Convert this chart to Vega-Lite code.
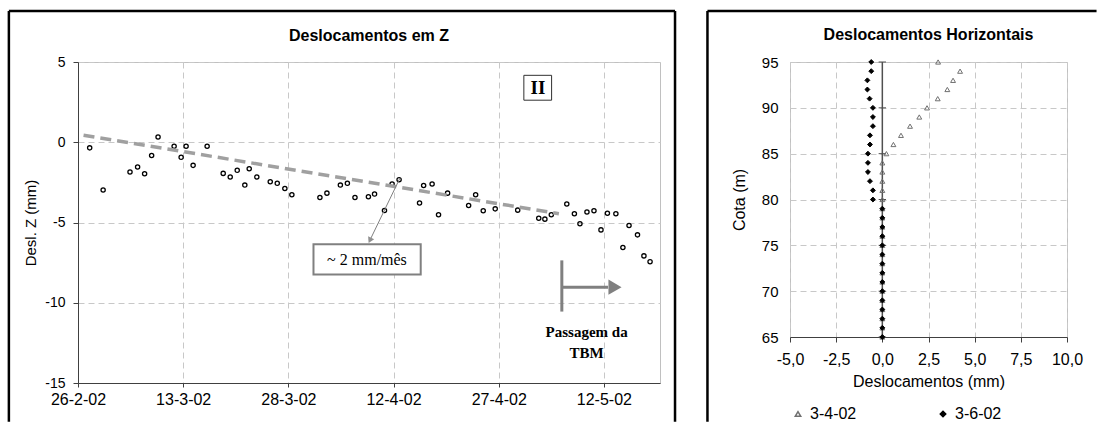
{
  "$schema": "https://vega.github.io/schema/vega-lite/v6.json",
  "padding": {"left": 7, "top": 9, "right": 0, "bottom": 0},
  "spacing": 28,
  "resolve": {"scale": {"shape": "independent", "stroke": "independent", "fill": "independent"}, "legend": {"shape": "independent", "stroke": "independent", "fill": "independent"}},
  "config": {
    "font": "Liberation Sans",
    "view": {"stroke": "#c0c0c0", "strokeWidth": 1},
    "axis": {
      "gridColor": "#c8c8c8",
      "gridDash": [6, 4],
      "domainColor": "#404040",
      "tickColor": "#404040",
      "labelColor": "black",
      "titleColor": "black",
      "labelFont": "Liberation Sans",
      "titleFont": "Liberation Sans",
      "titleFontWeight": "normal",
      "labelOverlap": false,
      "labelFlush": false
    },
    "title": {"font": "Liberation Sans", "fontSize": 16, "fontWeight": "bold", "color": "black", "anchor": "middle"},
    "legend": {"labelFont": "Liberation Sans"}
  },
  "datasets": {
    "z": [
      {"t": "2002-02-27T16:00", "v": -0.35},
      {"t": "2002-03-01T14:00", "v": -2.98},
      {"t": "2002-03-05T10:00", "v": -1.85},
      {"t": "2002-03-06T12:00", "v": -1.54},
      {"t": "2002-03-07T12:00", "v": -1.96},
      {"t": "2002-03-08T12:00", "v": -0.83},
      {"t": "2002-03-09T10:00", "v": 0.33},
      {"t": "2002-03-11T17:00", "v": -0.25},
      {"t": "2002-03-12T17:00", "v": -0.94},
      {"t": "2002-03-13T10:00", "v": -0.25},
      {"t": "2002-03-14T10:00", "v": -1.44},
      {"t": "2002-03-16T10:00", "v": -0.25},
      {"t": "2002-03-18T17:00", "v": -1.94},
      {"t": "2002-03-19T17:00", "v": -2.17},
      {"t": "2002-03-20T17:00", "v": -1.75},
      {"t": "2002-03-21T19:00", "v": -2.67},
      {"t": "2002-03-22T10:00", "v": -1.65},
      {"t": "2002-03-23T12:00", "v": -2.17},
      {"t": "2002-03-25T10:00", "v": -2.46},
      {"t": "2002-03-26T10:00", "v": -2.56},
      {"t": "2002-03-27T12:00", "v": -2.88},
      {"t": "2002-03-28T12:00", "v": -3.27},
      {"t": "2002-04-01T12:00", "v": -3.44},
      {"t": "2002-04-02T12:00", "v": -3.17},
      {"t": "2002-04-04T10:00", "v": -2.67},
      {"t": "2002-04-05T10:00", "v": -2.56},
      {"t": "2002-04-06T12:00", "v": -3.44},
      {"t": "2002-04-08T10:00", "v": -3.4},
      {"t": "2002-04-09T07:00", "v": -3.23},
      {"t": "2002-04-10T17:00", "v": -4.25},
      {"t": "2002-04-11T19:00", "v": -2.6},
      {"t": "2002-04-12T19:00", "v": -2.33},
      {"t": "2002-04-15T17:00", "v": -3.79},
      {"t": "2002-04-16T07:00", "v": -2.69},
      {"t": "2002-04-17T12:00", "v": -2.6},
      {"t": "2002-04-18T10:00", "v": -4.52},
      {"t": "2002-04-19T17:00", "v": -3.17},
      {"t": "2002-04-22T17:00", "v": -3.94},
      {"t": "2002-04-23T17:00", "v": -3.27},
      {"t": "2002-04-24T19:00", "v": -4.27},
      {"t": "2002-04-26T12:00", "v": -4.15},
      {"t": "2002-04-29T17:00", "v": -4.23},
      {"t": "2002-05-02T17:00", "v": -4.73},
      {"t": "2002-05-03T14:00", "v": -4.79},
      {"t": "2002-05-04T12:00", "v": -4.52},
      {"t": "2002-05-06T17:00", "v": -3.85},
      {"t": "2002-05-07T19:00", "v": -4.46},
      {"t": "2002-05-08T14:00", "v": -5.08},
      {"t": "2002-05-09T14:00", "v": -4.35},
      {"t": "2002-05-10T14:00", "v": -4.27},
      {"t": "2002-05-11T14:00", "v": -5.46},
      {"t": "2002-05-12T12:00", "v": -4.42},
      {"t": "2002-05-13T17:00", "v": -4.46},
      {"t": "2002-05-14T17:00", "v": -6.56},
      {"t": "2002-05-15T14:00", "v": -5.19},
      {"t": "2002-05-16T19:00", "v": -5.77},
      {"t": "2002-05-17T17:00", "v": -7.08},
      {"t": "2002-05-18T14:00", "v": -7.44}
    ],
    "trend": [
      {"t": "2002-02-26T19:00", "v": 0.44},
      {"t": "2002-05-05T14:00", "v": -4.45}
    ],
    "h": [
      {"serie": "3-4-02", "cota": 95, "d": 3.02},
      {"serie": "3-4-02", "cota": 94, "d": 4.21},
      {"serie": "3-4-02", "cota": 93, "d": 3.83},
      {"serie": "3-4-02", "cota": 92, "d": 3.52},
      {"serie": "3-4-02", "cota": 91, "d": 3.0},
      {"serie": "3-4-02", "cota": 90, "d": 2.42},
      {"serie": "3-4-02", "cota": 89, "d": 2.0},
      {"serie": "3-4-02", "cota": 88, "d": 1.5},
      {"serie": "3-4-02", "cota": 87, "d": 1.01},
      {"serie": "3-4-02", "cota": 86, "d": 0.6},
      {"serie": "3-4-02", "cota": 85, "d": 0.22},
      {"serie": "3-4-02", "cota": 84, "d": 0.0},
      {"serie": "3-4-02", "cota": 83, "d": 0.0},
      {"serie": "3-4-02", "cota": 82, "d": 0.0},
      {"serie": "3-4-02", "cota": 81, "d": 0.0},
      {"serie": "3-4-02", "cota": 80, "d": 0.0},
      {"serie": "3-4-02", "cota": 79, "d": 0.0},
      {"serie": "3-4-02", "cota": 78, "d": 0.0},
      {"serie": "3-4-02", "cota": 77, "d": 0.0},
      {"serie": "3-4-02", "cota": 76, "d": 0.0},
      {"serie": "3-4-02", "cota": 75, "d": 0.0},
      {"serie": "3-4-02", "cota": 74, "d": 0.0},
      {"serie": "3-4-02", "cota": 73, "d": 0.0},
      {"serie": "3-4-02", "cota": 72, "d": 0.0},
      {"serie": "3-4-02", "cota": 71, "d": 0.0},
      {"serie": "3-4-02", "cota": 70, "d": 0.0},
      {"serie": "3-4-02", "cota": 69, "d": 0.0},
      {"serie": "3-4-02", "cota": 68, "d": 0.0},
      {"serie": "3-4-02", "cota": 67, "d": 0.0},
      {"serie": "3-4-02", "cota": 66, "d": 0.0},
      {"serie": "3-4-02", "cota": 65, "d": 0.0},
      {"serie": "3-6-02", "cota": 95, "d": -0.6},
      {"serie": "3-6-02", "cota": 94, "d": -0.6},
      {"serie": "3-6-02", "cota": 93, "d": -0.81},
      {"serie": "3-6-02", "cota": 92, "d": -0.81},
      {"serie": "3-6-02", "cota": 91, "d": -0.69},
      {"serie": "3-6-02", "cota": 90, "d": -0.51},
      {"serie": "3-6-02", "cota": 89, "d": -0.51},
      {"serie": "3-6-02", "cota": 88, "d": -0.51},
      {"serie": "3-6-02", "cota": 87, "d": -0.67},
      {"serie": "3-6-02", "cota": 86, "d": -0.67},
      {"serie": "3-6-02", "cota": 85, "d": -0.78},
      {"serie": "3-6-02", "cota": 84, "d": -0.78},
      {"serie": "3-6-02", "cota": 83, "d": -0.78},
      {"serie": "3-6-02", "cota": 82, "d": -0.67},
      {"serie": "3-6-02", "cota": 81, "d": -0.51},
      {"serie": "3-6-02", "cota": 80, "d": -0.51},
      {"serie": "3-6-02", "cota": 79, "d": 0.0},
      {"serie": "3-6-02", "cota": 78, "d": 0.0},
      {"serie": "3-6-02", "cota": 77, "d": 0.0},
      {"serie": "3-6-02", "cota": 76, "d": 0.0},
      {"serie": "3-6-02", "cota": 75, "d": 0.0},
      {"serie": "3-6-02", "cota": 74, "d": 0.0},
      {"serie": "3-6-02", "cota": 73, "d": 0.0},
      {"serie": "3-6-02", "cota": 72, "d": 0.0},
      {"serie": "3-6-02", "cota": 71, "d": 0.0},
      {"serie": "3-6-02", "cota": 70, "d": 0.0},
      {"serie": "3-6-02", "cota": 69, "d": 0.0},
      {"serie": "3-6-02", "cota": 68, "d": 0.0},
      {"serie": "3-6-02", "cota": 67, "d": 0.0},
      {"serie": "3-6-02", "cota": 66, "d": 0.0},
      {"serie": "3-6-02", "cota": 65, "d": 0.0}
    ],
    "ticks": [{"c": 95}, {"c": 90}, {"c": 85}, {"c": 80}, {"c": 75}, {"c": 70}, {"c": 65}],
    "one": [{}]
  },
  "hconcat": [
    {
      "width": 582,
      "height": 321,
      "title": {"text": "Deslocamentos em Z", "offset": -34},
      "layer": [
        {
          "data": {"name": "z"},
          "mark": {"type": "point", "shape": "circle", "filled": false, "stroke": "black", "strokeWidth": 1.3, "size": 18, "opacity": 1},
          "encoding": {
            "x": {
              "field": "t", "type": "temporal",
              "scale": {"domain": [{"year": 2002, "month": 2, "date": 26}, {"year": 2002, "month": 5, "date": 20}]},
              "axis": {
                "title": null,
                "values": [
                  {"year": 2002, "month": 2, "date": 26},
                  {"year": 2002, "month": 3, "date": 13},
                  {"year": 2002, "month": 3, "date": 28},
                  {"year": 2002, "month": 4, "date": 12},
                  {"year": 2002, "month": 4, "date": 27},
                  {"year": 2002, "month": 5, "date": 12}
                ],
                "format": "%-d-%-m-%y",
                "labelFontSize": 16,
                "tickSize": 4,
                "labelPadding": 4,
                "grid": true
              }
            },
            "y": {
              "field": "v", "type": "quantitative",
              "scale": {"domain": [-15, 5], "nice": false},
              "axis": {
                "title": "Desl. Z (mm)",
                "values": [-15, -10, -5, 0, 5],
                "labelExpr": "replace(datum.label, '−', '-')",
                "labelFontSize": 14,
                "titleFontSize": 15,
                "tickSize": 5,
                "labelPadding": 8,
                "titlePadding": 6,
                "grid": true
              }
            }
          }
        },
        {
          "data": {"name": "trend"},
          "mark": {"type": "line", "stroke": "#a0a0a0", "strokeWidth": 3.5, "strokeDash": [11, 6]},
          "encoding": {
            "x": {"field": "t", "type": "temporal", "scale": {"domain": [{"year": 2002, "month": 2, "date": 26}, {"year": 2002, "month": 5, "date": 20}]}},
            "y": {"field": "v", "type": "quantitative", "scale": {"domain": [-15, 5], "nice": false}}
          }
        },
        {
          "data": {"name": "one"},
          "mark": {"type": "rule", "stroke": "#808080", "strokeWidth": 1},
          "encoding": {
            "x": {"datum": {"year": 2002, "month": 4, "date": 12, "hours": 22}, "type": "temporal", "scale": {"domain": [{"year": 2002, "month": 2, "date": 26}, {"year": 2002, "month": 5, "date": 20}]}},
            "y": {"datum": -2.23, "type": "quantitative", "scale": {"domain": [-15, 5], "nice": false}},
            "x2": {"datum": {"year": 2002, "month": 4, "date": 8, "hours": 15}},
            "y2": {"datum": -6.11}
          }
        },
        {
          "data": {"name": "one"},
          "mark": {"type": "point", "shape": "triangle-up", "filled": true, "color": "#909090", "size": 45, "angle": 206, "opacity": 1},
          "encoding": {
            "x": {"datum": {"year": 2002, "month": 4, "date": 8, "hours": 15}, "type": "temporal", "scale": {"domain": [{"year": 2002, "month": 2, "date": 26}, {"year": 2002, "month": 5, "date": 20}]}},
            "y": {"datum": -6.11, "type": "quantitative", "scale": {"domain": [-15, 5], "nice": false}}
          }
        },
        {
          "data": {"name": "one"},
          "mark": {"type": "rect", "fill": "white", "stroke": "#808080", "strokeWidth": 2},
          "encoding": {
            "x": {"datum": {"year": 2002, "month": 3, "date": 31, "hours": 14}, "type": "temporal", "scale": {"domain": [{"year": 2002, "month": 2, "date": 26}, {"year": 2002, "month": 5, "date": 20}]}},
            "x2": {"datum": {"year": 2002, "month": 4, "date": 15, "hours": 21}},
            "y": {"datum": -6.36, "type": "quantitative", "scale": {"domain": [-15, 5], "nice": false}},
            "y2": {"datum": -8.24}
          }
        },
        {
          "data": {"name": "one"},
          "mark": {"type": "text", "text": "~ 2 mm/mês", "font": "Liberation Serif", "fontSize": 16, "align": "center", "baseline": "middle", "color": "black"},
          "encoding": {
            "x": {"datum": {"year": 2002, "month": 4, "date": 8, "hours": 5}, "type": "temporal", "scale": {"domain": [{"year": 2002, "month": 2, "date": 26}, {"year": 2002, "month": 5, "date": 20}]}},
            "y": {"datum": -7.31, "type": "quantitative", "scale": {"domain": [-15, 5], "nice": false}}
          }
        },
        {
          "data": {"name": "one"},
          "mark": {"type": "rect", "fill": "white", "stroke": "#303030", "strokeWidth": 1},
          "encoding": {
            "x": {"datum": {"year": 2002, "month": 4, "date": 30, "hours": 14}, "type": "temporal", "scale": {"domain": [{"year": 2002, "month": 2, "date": 26}, {"year": 2002, "month": 5, "date": 20}]}},
            "x2": {"datum": {"year": 2002, "month": 5, "date": 4, "hours": 13}},
            "y": {"datum": 4.17, "type": "quantitative", "scale": {"domain": [-15, 5], "nice": false}},
            "y2": {"datum": 2.62}
          }
        },
        {
          "data": {"name": "one"},
          "mark": {"type": "text", "text": "II", "font": "Liberation Serif", "fontSize": 19, "fontWeight": "bold", "align": "center", "baseline": "middle", "color": "black"},
          "encoding": {
            "x": {"datum": {"year": 2002, "month": 5, "date": 2, "hours": 14}, "type": "temporal", "scale": {"domain": [{"year": 2002, "month": 2, "date": 26}, {"year": 2002, "month": 5, "date": 20}]}},
            "y": {"datum": 3.4, "type": "quantitative", "scale": {"domain": [-15, 5], "nice": false}}
          }
        },
        {
          "data": {"name": "one"},
          "mark": {"type": "rule", "stroke": "#808080", "strokeWidth": 3},
          "encoding": {
            "x": {"datum": {"year": 2002, "month": 5, "date": 6}, "type": "temporal", "scale": {"domain": [{"year": 2002, "month": 2, "date": 26}, {"year": 2002, "month": 5, "date": 20}]}},
            "y": {"datum": -7.36, "type": "quantitative", "scale": {"domain": [-15, 5], "nice": false}},
            "y2": {"datum": -10.55}
          }
        },
        {
          "data": {"name": "one"},
          "mark": {"type": "rule", "stroke": "#808080", "strokeWidth": 3},
          "encoding": {
            "x": {"datum": {"year": 2002, "month": 5, "date": 6}, "type": "temporal", "scale": {"domain": [{"year": 2002, "month": 2, "date": 26}, {"year": 2002, "month": 5, "date": 20}]}},
            "x2": {"datum": {"year": 2002, "month": 5, "date": 12, "hours": 14}},
            "y": {"datum": -9.03, "type": "quantitative", "scale": {"domain": [-15, 5], "nice": false}}
          }
        },
        {
          "data": {"name": "one"},
          "mark": {"type": "point", "shape": "triangle-right", "filled": true, "color": "#808080", "size": 230, "opacity": 1},
          "encoding": {
            "x": {"datum": {"year": 2002, "month": 5, "date": 13, "hours": 14}, "type": "temporal", "scale": {"domain": [{"year": 2002, "month": 2, "date": 26}, {"year": 2002, "month": 5, "date": 20}]}},
            "y": {"datum": -9.03, "type": "quantitative", "scale": {"domain": [-15, 5], "nice": false}}
          }
        },
        {
          "data": {"name": "one"},
          "mark": {"type": "text", "text": "Passagem da", "font": "Liberation Serif", "fontSize": 15, "fontWeight": "bold", "align": "center", "baseline": "middle", "color": "black"},
          "encoding": {
            "x": {"datum": {"year": 2002, "month": 5, "date": 9, "hours": 13}, "type": "temporal", "scale": {"domain": [{"year": 2002, "month": 2, "date": 26}, {"year": 2002, "month": 5, "date": 20}]}},
            "y": {"datum": -11.82, "type": "quantitative", "scale": {"domain": [-15, 5], "nice": false}}
          }
        },
        {
          "data": {"name": "one"},
          "mark": {"type": "text", "text": "TBM", "font": "Liberation Serif", "fontSize": 15, "fontWeight": "bold", "align": "center", "baseline": "middle", "color": "black"},
          "encoding": {
            "x": {"datum": {"year": 2002, "month": 5, "date": 9, "hours": 13}, "type": "temporal", "scale": {"domain": [{"year": 2002, "month": 2, "date": 26}, {"year": 2002, "month": 5, "date": 20}]}},
            "y": {"datum": -13.13, "type": "quantitative", "scale": {"domain": [-15, 5], "nice": false}}
          }
        },
        {
          "data": {"name": "one"},
          "mark": {"type": "rule", "stroke": "black", "strokeWidth": 2.5},
          "encoding": {
            "x": {"datum": {"year": 2002, "month": 2, "date": 16, "hours": 3, "minutes": 26}, "type": "temporal", "scale": {"domain": [{"year": 2002, "month": 2, "date": 26}, {"year": 2002, "month": 5, "date": 20}]}},
            "y": {"datum": 8.18, "type": "quantitative", "scale": {"domain": [-15, 5], "nice": false}},
            "y2": {"datum": -17.41}
          }
        },
        {
          "data": {"name": "one"},
          "mark": {"type": "rule", "stroke": "black", "strokeWidth": 2.5},
          "encoding": {
            "x": {"datum": {"year": 2002, "month": 5, "date": 22, "hours": 3, "minutes": 26}, "type": "temporal", "scale": {"domain": [{"year": 2002, "month": 2, "date": 26}, {"year": 2002, "month": 5, "date": 20}]}},
            "y": {"datum": 8.18, "type": "quantitative", "scale": {"domain": [-15, 5], "nice": false}},
            "y2": {"datum": -17.41}
          }
        },
        {
          "data": {"name": "one"},
          "mark": {"type": "rule", "stroke": "black", "strokeWidth": 2.5},
          "encoding": {
            "x": {"datum": {"year": 2002, "month": 2, "date": 16, "hours": 3, "minutes": 26}, "type": "temporal", "scale": {"domain": [{"year": 2002, "month": 2, "date": 26}, {"year": 2002, "month": 5, "date": 20}]}},
            "x2": {"datum": {"year": 2002, "month": 5, "date": 22, "hours": 3, "minutes": 26}},
            "y": {"datum": 8.18, "type": "quantitative", "scale": {"domain": [-15, 5], "nice": false}}
          }
        }
      ]
    },
    {
      "width": 277,
      "height": 275,
      "title": {"text": "Deslocamentos Horizontais", "offset": -33},
      "layer": [
        {
          "data": {"name": "one"},
          "mark": {"type": "rule", "stroke": "#505050", "strokeWidth": 1.5},
          "encoding": {
            "x": {"datum": 0, "type": "quantitative", "scale": {"domain": [-5, 10], "nice": false, "zero": false}},
            "y": {"datum": 65, "type": "quantitative", "scale": {"domain": [65, 95], "nice": false, "zero": false}},
            "y2": {"datum": 95}
          }
        },
        {
          "data": {"name": "ticks"},
          "mark": {"type": "rule", "stroke": "#505050", "strokeWidth": 1},
          "encoding": {
            "x": {"datum": -0.2, "type": "quantitative", "scale": {"domain": [-5, 10], "nice": false, "zero": false}},
            "x2": {"datum": 0.2},
            "y": {"field": "c", "type": "quantitative", "scale": {"domain": [65, 95], "nice": false, "zero": false}}
          }
        },
        {
          "data": {"name": "h"},
          "mark": {"type": "point", "filled": true, "size": 24, "strokeWidth": 1, "opacity": 1},
          "encoding": {
            "x": {
              "field": "d", "type": "quantitative",
              "scale": {"domain": [-5, 10], "nice": false, "zero": false},
              "axis": {
                "title": "Deslocamentos (mm)",
                "values": [-5, -2.5, 0, 2.5, 5, 7.5, 10],
                "labelExpr": "replace(replace(format(datum.value, '.1f'), '−', '-'), '.', ',')",
                "labelFontSize": 16,
                "titleFontSize": 16,
                "tickSize": 5,
                "labelPadding": 9,
                "titlePadding": 6,
                "grid": true
              }
            },
            "y": {
              "field": "cota", "type": "quantitative",
              "scale": {"domain": [65, 95], "nice": false, "zero": false},
              "axis": {
                "title": "Cota (m)",
                "values": [65, 70, 75, 80, 85, 90, 95],
                "domain": false,
                "ticks": false,
                "tickSize": 0,
                "labelPadding": 12,
                "labelFontSize": 15,
                "titleFontSize": 16,
                "titlePadding": 14,
                "grid": true
              }
            },
            "shape": {
              "field": "serie", "type": "nominal",
              "scale": {"domain": ["3-4-02", "3-6-02"], "range": ["triangle-up", "diamond"]},
              "legend": {"title": null, "orient": "bottom", "direction": "horizontal", "columnPadding": 78, "labelFontSize": 16, "symbolSize": 30, "offset": 17, "labelOffset": 4, "padding": 0}
            },
            "stroke": {
              "field": "serie", "type": "nominal",
              "scale": {"domain": ["3-4-02", "3-6-02"], "range": ["#707070", "black"]},
              "legend": {"title": null, "orient": "bottom", "direction": "horizontal", "columnPadding": 78, "labelFontSize": 16, "symbolSize": 30, "offset": 17, "labelOffset": 4, "padding": 0}
            },
            "fill": {
              "field": "serie", "type": "nominal",
              "scale": {"domain": ["3-4-02", "3-6-02"], "range": ["transparent", "black"]},
              "legend": {"title": null, "orient": "bottom", "direction": "horizontal", "columnPadding": 78, "labelFontSize": 16, "symbolSize": 30, "offset": 17, "labelOffset": 4, "padding": 0}
            }
          }
        },
        {
          "data": {"name": "one"},
          "mark": {"type": "rule", "stroke": "black", "strokeWidth": 2.5},
          "encoding": {
            "x": {"datum": -9.47, "type": "quantitative", "scale": {"domain": [-5, 10], "nice": false, "zero": false}},
            "y": {"datum": 100.56, "type": "quantitative", "scale": {"domain": [65, 95], "nice": false, "zero": false}},
            "y2": {"datum": 55.75}
          }
        },
        {
          "data": {"name": "one"},
          "mark": {"type": "rule", "stroke": "black", "strokeWidth": 2.5},
          "encoding": {
            "x": {"datum": -9.47, "type": "quantitative", "scale": {"domain": [-5, 10], "nice": false, "zero": false}},
            "x2": {"datum": 11.6},
            "y": {"datum": 100.56, "type": "quantitative", "scale": {"domain": [65, 95], "nice": false, "zero": false}}
          }
        }
      ]
    }
  ]
}
